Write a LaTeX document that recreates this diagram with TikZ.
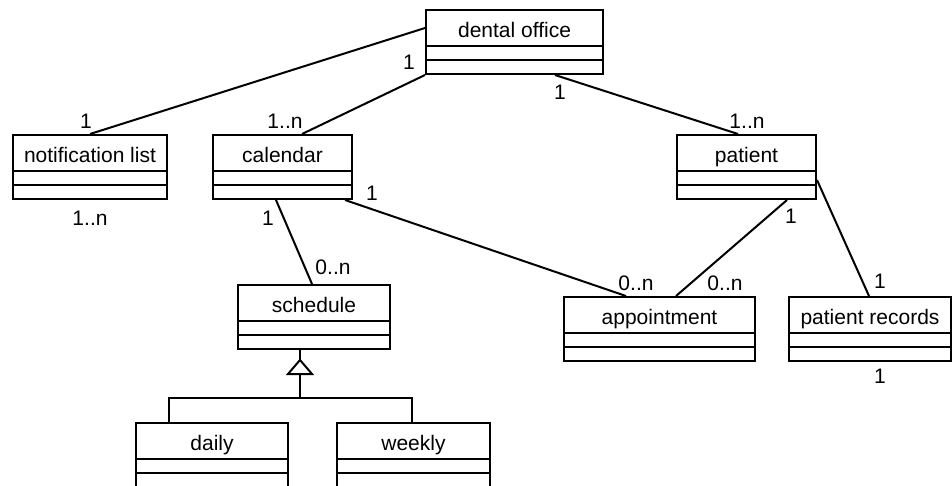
\documentclass[tikz,border=0pt]{standalone}
\usepackage{fontspec}
\setmainfont{Liberation Sans}
\usetikzlibrary{calc}
\tikzset{
  cls/.style={draw, line width=2pt, rectangle, inner xsep=0pt, inner ysep=0pt,
    text height=27pt, text depth=37pt, anchor=north west,
    font=\fontsize{21}{25}\selectfont},
  mult/.style={anchor=base, inner sep=0pt, font=\fontsize{21}{25}\selectfont},
  conn/.style={line width=2pt},
}
\newcommand\compartments[1]{%
  \draw[conn] ($(#1.north west)+(0,37)$) -- ($(#1.north east)+(0,37)$);
  \draw[conn] ($(#1.north west)+(0,51)$) -- ($(#1.north east)+(0,51)$);}
\begin{document}
\begin{tikzpicture}[x=1pt,y=-1pt]
\clip (0,0) rectangle (952,485);
\fill[white] (0,0) rectangle (952,485);
% classes
\node[cls, minimum width=177pt] (do) at (425,9) {dental office};
\node[cls, minimum width=154pt] (nl) at (12,134) {notification list};
\node[cls, minimum width=139pt] (cal) at (212,134) {calendar};
\node[cls, minimum width=139pt] (pat) at (676,134) {patient};
\node[cls, minimum width=152pt] (sch) at (237,284) {schedule};
\node[cls, minimum width=191pt] (app) at (563,296) {appointment};
\node[cls, minimum width=162pt] (rec) at (788,296) {patient records};
\node[cls, minimum width=152pt] (day) at (135,422) {daily};
\node[cls, minimum width=153pt] (wk) at (336,422) {weekly};
\foreach \n in {do,nl,cal,pat,sch,app,rec,day,wk} {\compartments{\n}}
% associations
\draw[conn] ($(do.north west)+(0,19)$) -- ($(nl.north west)+(78,0)$);
\draw[conn] (do.south west) -- ($(cal.north west)+(90,0)$);
\draw[conn] ($(do.south west)+(130,0)$) -- ($(pat.north west)+(62,0)$);
\draw[conn] ($(cal.south west)+(64,0)$) -- ($(sch.north west)+(75,0)$);
\draw[conn] ($(cal.south east)+(-8,0)$) -- ($(app.north west)+(63,0)$);
\draw[conn] ($(pat.south west)+(111,0)$) -- ($(app.north west)+(113,0)$);
\draw[conn] ($(pat.north east)+(0,46)$) -- ($(rec.north west)+(81,0)$);
% generalization
\coordinate (gen) at ($(sch.south west)+(63,0)$);
\coordinate (apex) at ($(gen)+(0,10)$);
\coordinate (tbase) at ($(apex)+(0,14)$);
\coordinate (bar) at ($(tbase)+(0,24)$);
\draw[conn] (gen) -- (apex);
\draw[conn, line join=miter] (apex) -- ++(-12,14) -- ++(24,0) -- cycle;
\draw[conn] (tbase) -- (bar);
\draw[conn] ($(day.north west)+(34,0)$) |- (bar) -| ($(wk.north west)+(76,0)$);
% multiplicities
\node[mult] (m1) at (86,128.5) {1};
\node[mult] (m2) at (285,128.5) {1..n};
\node[mult] (m3) at (409,69.5) {1};
\node[mult] (m4) at (560,99.5) {1};
\node[mult] (m5) at (747,128.5) {1..n};
\node[mult] (m6) at (90,225.5) {1..n};
\node[mult] (m7) at (268,225.5) {1};
\node[mult] (m8) at (372,200.5) {1};
\node[mult] (m9) at (791,223.5) {1};
\node[mult] (m10) at (333,274.5) {0..n};
\node[mult] (m11) at (636,290.5) {0..n};
\node[mult] (m12) at (725,290.5) {0..n};
\node[mult] (m13) at (880,288.5) {1};
\node[mult] (m14) at (880,383.5) {1};
\end{tikzpicture}
\end{document}
